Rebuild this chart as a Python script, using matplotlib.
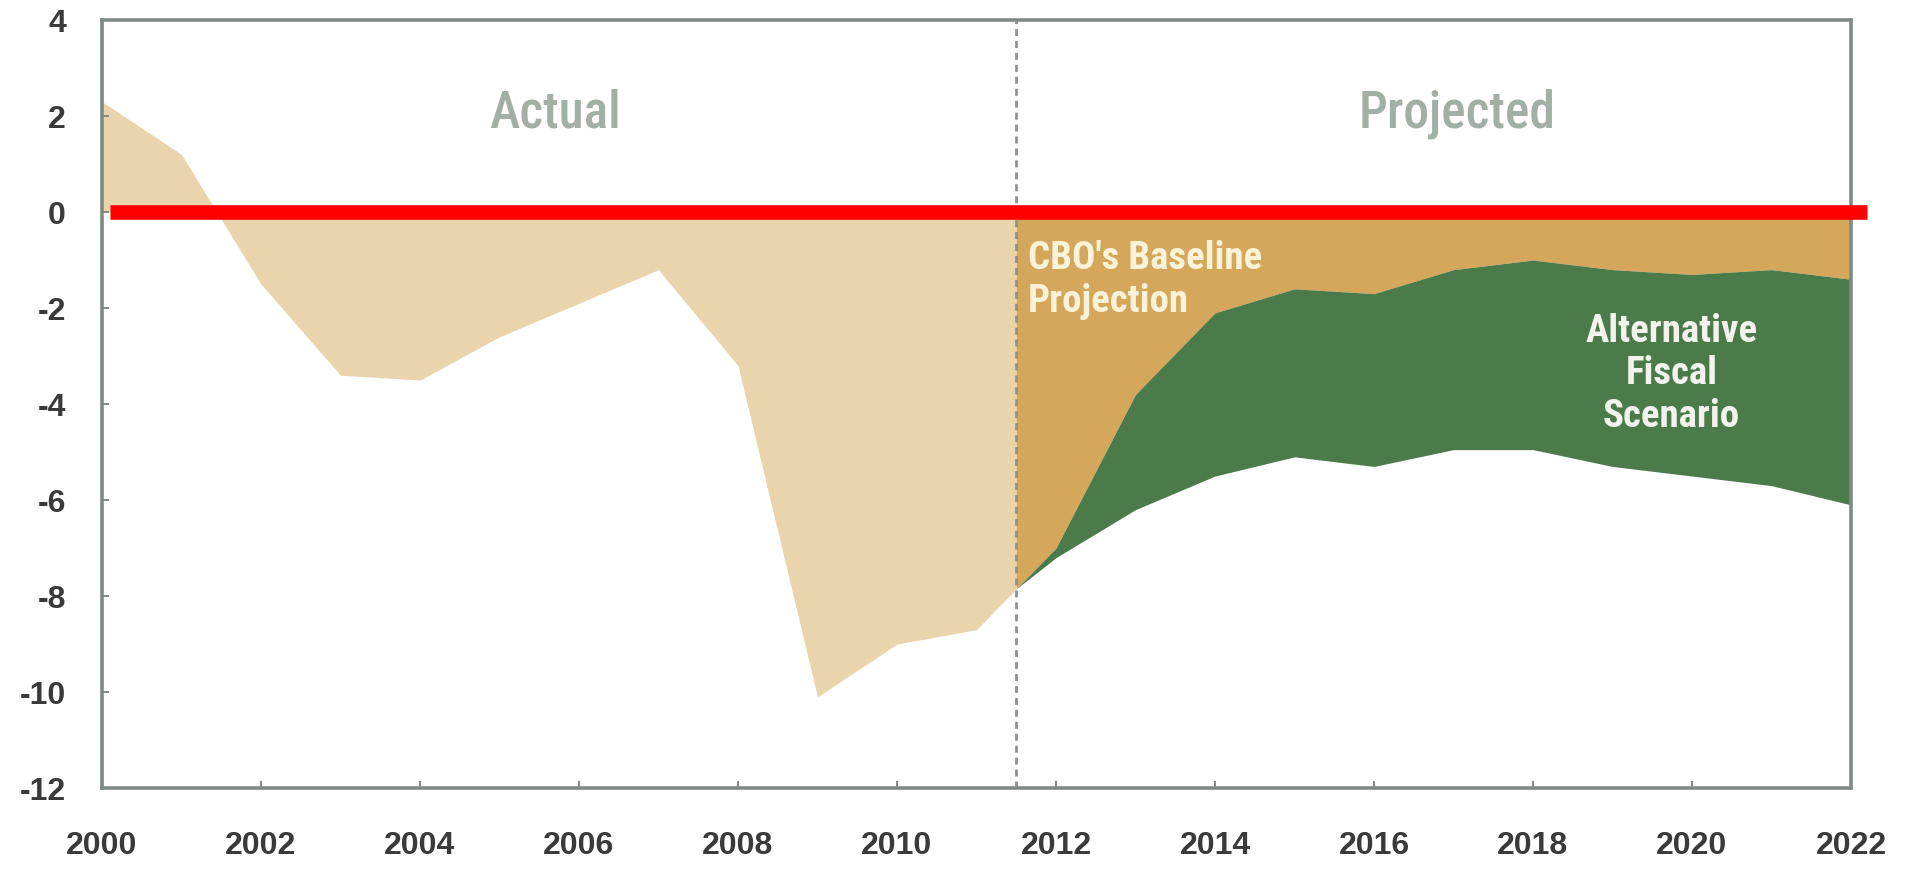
import numpy as np
import matplotlib
matplotlib.use("Agg")
import matplotlib.pyplot as plt
import matplotlib.font_manager as fm

# ---------------- data (percent of GDP) ----------------
actual_years = [2000, 2001, 2002, 2003, 2004, 2005, 2006, 2007, 2008, 2009, 2010, 2011]
actual_vals = [2.3, 1.2, -1.5, -3.4, -3.5, -2.6, -1.9, -1.2, -3.2, -10.1, -9.0, -8.7]

proj_years = [2012, 2013, 2014, 2015, 2016, 2017, 2018, 2019, 2020, 2021, 2022]
baseline_vals = [-7.0, -3.8, -2.1, -1.6, -1.7, -1.2, -1.0, -1.2, -1.3, -1.2, -1.4]
alternative_vals = [-7.2, -6.2, -5.5, -5.1, -5.3, -4.95, -4.95, -5.3, -5.5, -5.7, -6.1]

split_year = 2011.5
y_ticks = [4, 2, 0, -2, -4, -6, -8, -10, -12]
x_ticks = list(range(2000, 2023, 2))
red_line_span = [2000.1, 2022.2]

# ---------------- fonts ----------------
names = {f.name for f in fm.fontManager.ttflist}
narrow = next((n for n in ["Liberation Sans Narrow", "DejaVu Sans Condensed",
                           "Roboto Condensed", "Open Sans Condensed"] if n in names),
              "Liberation Sans")
tickfont = "Liberation Sans" if "Liberation Sans" in names else "DejaVu Sans"

# ---------------- colours ----------------
tan = "#e9d4ab"
orange = "#d5a75a"
green = "#4b7a4b"
frame = "#7e8a83"
label_grey = "#a2afa4"
tick_col = "#3a3a3a"

# boundary value at the actual/projected split
split_val = float(np.interp(split_year, [actual_years[-1], proj_years[0]],
                            [actual_vals[-1], baseline_vals[0]]))
xa = np.array(actual_years + [split_year], dtype=float)
ya = np.array(actual_vals + [split_val])
xp = np.array([split_year] + proj_years, dtype=float)
yb = np.array([split_val] + baseline_vals)
yalt = np.array([split_val] + alternative_vals)

fig = plt.figure(figsize=(19.1, 8.72), dpi=100)
ax = fig.add_axes([0.0534, 0.0963, 0.9157, 0.8807])

ax.fill_between(xa, 0, ya, color=tan, lw=0, zorder=1)
ax.fill_between(xp, 0, yb, color=orange, lw=0, zorder=1)
ax.fill_between(xp, yb, yalt, color=green, lw=0, zorder=2)

ax.axvline(split_year, color="#8a948e", lw=2.0, linestyle=(0, (2.5, 1.8)), zorder=3)

ax.set_xlim(2000, 2022)
ax.set_ylim(-12, 4)
ax.set_xticks(x_ticks)
ax.set_yticks(y_ticks)
ax.set_xticklabels([str(t) for t in x_ticks])
ax.set_yticklabels([str(t) for t in y_ticks])

for s in ax.spines.values():
    s.set_color(frame)
    s.set_linewidth(2.6)
    s.set_zorder(4)

ax.tick_params(axis="both", direction="in", length=5, width=1.4, color=frame,
               labelcolor=tick_col)
ax.tick_params(axis="y", pad=26)
ax.tick_params(axis="x", pad=31)
for lab in ax.get_xticklabels() + ax.get_yticklabels():
    lab.set_fontfamily(tickfont)
    lab.set_fontweight("bold")
    lab.set_fontsize(23)

ax.text(2005.7, 2.05, "Actual", family=narrow, fontsize=37, color=label_grey,
        fontweight="medium", ha="center", va="center", zorder=5)
ax.text(2017.05, 2.05, "Projected", family=narrow, fontsize=37, color=label_grey,
        fontweight="medium", ha="center", va="center", zorder=5)
ax.text(2011.65, -1.42, "CBO's Baseline\nProjection", family=narrow, fontsize=28,
        fontweight="bold", color="#fbf2da", ha="left", va="center", zorder=5)
ax.text(2019.74, -3.37, "Alternative\nFiscal\nScenario", family=narrow, fontsize=28,
        fontweight="bold", color="#f2f4ec", ha="center", va="center",
        multialignment="center", zorder=5)

ax.plot(red_line_span, [0, 0], color="#ff0000", lw=10.5, solid_capstyle="butt",
        clip_on=False, zorder=10)

fig.savefig("out.png", dpi=100, facecolor="white")
